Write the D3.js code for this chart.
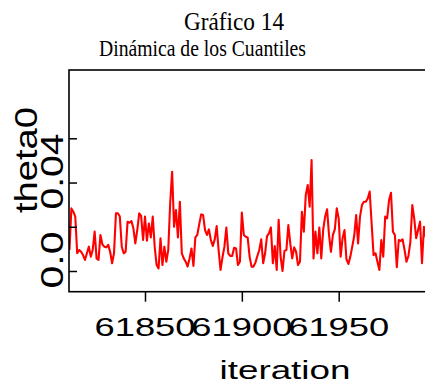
<!DOCTYPE html>
<html>
<head>
<meta charset="utf-8">
<script src="https://cdn.jsdelivr.net/npm/d3@7"></script>
<style>
  html, body { margin: 0; padding: 0; background: #fff; }
  svg { display: block; }
</style>
</head>
<body>
<script>
// Trace of theta0 quantile over the MCMC iterations
const startIteration = 61811;
const theta0 = [
  0.0095, 0.0283, 0.0268, 0.0246, 0.0080, 0.0095, 0.0087, 0.0072, 0.0050, 0.0080,
  0.0110, 0.0065, 0.0095, 0.0178, 0.0057, 0.0050, 0.0163, 0.0120, 0.0110, 0.0107,
  0.0118, 0.0087, 0.0035, 0.0080, 0.0261, 0.0261, 0.0246, 0.0110, 0.0080, 0.0087,
  0.0223, 0.0218, 0.0226, 0.0193, 0.0125, 0.0185, 0.0261, 0.0249, 0.0140, 0.0246,
  0.0137, 0.0215, 0.0152, 0.0246, 0.0110, 0.0027, 0.0012, 0.0148, 0.0027, 0.0110,
  0.0042, 0.0095, 0.0306, 0.0449, 0.0200, 0.0276, 0.0152, 0.0313, 0.0080, 0.0057,
  0.0042, 0.0020, 0.0057, 0.0102, 0.0023, 0.0152, 0.0163, 0.0212, 0.0256, 0.0253,
  0.0185, 0.0163, 0.0188, 0.0140, 0.0113, 0.0143, 0.0203, 0.0095, 0.0005, 0.0062,
  0.0110, 0.0197, 0.0080, 0.0068, 0.0068, 0.0105, 0.0102, 0.0027, 0.0042, 0.0264,
  0.0163, 0.0155, 0.0152, 0.0065, 0.0020, 0.0020, 0.0038, 0.0068, 0.0095, 0.0143,
  0.0035, 0.0080, 0.0158, 0.0170, 0.0197, 0.0035, 0.0113, 0.0005, 0.0231, 0.0065,
  0.0000, 0.0091, 0.0095, 0.0208, 0.0125, 0.0057, 0.0107, 0.0087, 0.0027, 0.0042,
  0.0268, 0.0178, 0.0344, 0.0389, 0.0291, 0.0502, 0.0057, 0.0178, 0.0080, 0.0197,
  0.0057, 0.0188, 0.0246, 0.0279, 0.0163, 0.0087, 0.0163, 0.0188, 0.0283, 0.0237,
  0.0065, 0.0148, 0.0185, 0.0053, 0.0032, 0.0065, 0.0110, 0.0158, 0.0253, 0.0125,
  0.0246, 0.0298, 0.0313, 0.0313, 0.0328, 0.0359, 0.0215, 0.0072, 0.0080, 0.0042,
  0.0005, 0.0140, 0.0065, 0.0246, 0.0238, 0.0321, 0.0354, 0.0178, 0.0163, 0.0017,
  0.0140, 0.0136, 0.0143, 0.0095, 0.0042, 0.0068, 0.0132, 0.0298, 0.0237, 0.0148,
  0.0185, 0.0223, 0.0035, 0.0200, 0.0152, 0.0246
];

const xTicks = [61850, 61900, 61950];
const yTicks = [0.00, 0.02, 0.04, 0.06];
// R drops overlapping axis labels, so only some of the y ticks carry text
const yTickLabels = ["0.0", null, "0.04", null];

const titleLines = ["Gráfico 14", "Dinámica de los Cuantiles"];
const xLabel = "iteration";
const yLabel = "theta0";

const W = 425, H = 384;
const box = { left: 69, top: 70, right: 445, bottom: 291.7 };

const svg = d3.select("body").append("svg")
  .attr("width", W).attr("height", H);

const x = d3.scaleLinear().domain([61850, 61950]).range([145, 338.7]);
const y = d3.scaleLinear().domain([0, 0.06]).range([271, 138.3]);

const sans = "'Liberation Sans', Arial, Helvetica, sans-serif";
const serif = "'Liberation Serif', 'Times New Roman', serif";

// Titles
svg.append("text")
  .attr("x", 234).attr("y", 29.5)
  .attr("text-anchor", "middle")
  .attr("font-family", serif).attr("font-size", 25)
  .attr("textLength", 100).attr("lengthAdjust", "spacingAndGlyphs")
  .text(titleLines[0]);
svg.append("text")
  .attr("x", 202.5).attr("y", 55.5)
  .attr("text-anchor", "middle")
  .attr("font-family", serif).attr("font-size", 23.5)
  .attr("textLength", 207).attr("lengthAdjust", "spacingAndGlyphs")
  .text(titleLines[1]);

// Series, clipped to the plotting region
svg.append("clipPath").attr("id", "plot-clip")
  .append("rect")
  .attr("x", box.left).attr("y", box.top)
  .attr("width", box.right - box.left).attr("height", box.bottom - box.top);

const line = d3.line()
  .x((d, i) => x(startIteration + i))
  .y(d => y(d));

svg.append("path")
  .datum(theta0)
  .attr("clip-path", "url(#plot-clip)")
  .attr("fill", "none")
  .attr("stroke", "#ff0000")
  .attr("stroke-width", 2.1)
  .attr("stroke-linejoin", "round")
  .attr("d", line);

// Frame
svg.append("rect")
  .attr("x", box.left).attr("y", box.top)
  .attr("width", box.right - box.left).attr("height", box.bottom - box.top)
  .attr("fill", "none").attr("stroke", "#000").attr("stroke-width", 1.6);

// Y axis: ticks point into the panel
const yAxis = d3.axisRight(y).tickValues(yTicks).tickSize(8).tickFormat("");
const yG = svg.append("g").attr("transform", `translate(${box.left},0)`).call(yAxis);
yG.select(".domain").remove();
yG.selectAll(".tick line").attr("stroke", "#000").attr("stroke-width", 1.5);

yTicks.forEach((v, i) => {
  const lab = yTickLabels[i];
  if (!lab) return;
  const cy = y(v) - 11;
  svg.append("text")
    .attr("transform", `translate(63,${cy}) rotate(-90)`)
    .attr("text-anchor", "middle")
    .attr("font-family", sans).attr("font-size", 31)
    .attr("textLength", lab.length * 19).attr("lengthAdjust", "spacingAndGlyphs")
    .text(lab);
});

// X axis: ticks below the panel
const xAxis = d3.axisBottom(x).tickValues(xTicks).tickSize(10).tickFormat("");
const xG = svg.append("g").attr("transform", `translate(0,${box.bottom})`).call(xAxis);
xG.select(".domain").remove();
xG.selectAll(".tick line").attr("stroke", "#000").attr("stroke-width", 1.5);

xTicks.forEach(v => {
  svg.append("text")
    .attr("x", x(v)).attr("y", 335.7)
    .attr("text-anchor", "middle")
    .attr("font-family", sans).attr("font-size", 26.5)
    .attr("textLength", 101).attr("lengthAdjust", "spacingAndGlyphs")
    .text(String(v));
});

// Axis titles
svg.append("text")
  .attr("x", 285).attr("y", 378.5)
  .attr("text-anchor", "middle")
  .attr("font-family", sans).attr("font-size", 25.5)
  .attr("textLength", 131).attr("lengthAdjust", "spacingAndGlyphs")
  .text(xLabel);

svg.append("text")
  .attr("transform", "translate(36.7,160) rotate(-90)")
  .attr("text-anchor", "middle")
  .attr("font-family", sans).attr("font-size", 31)
  .attr("textLength", 106).attr("lengthAdjust", "spacingAndGlyphs")
  .text(yLabel);
</script>
</body>
</html>
